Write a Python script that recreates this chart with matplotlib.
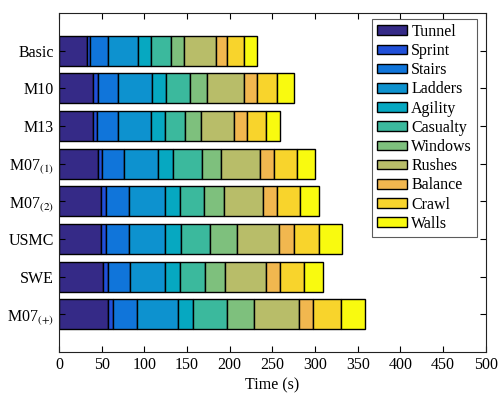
import matplotlib
matplotlib.use("Agg")
import matplotlib.pyplot as plt
import numpy as np

plt.rcParams['font.family'] = ['Liberation Serif', 'DejaVu Serif']
plt.rcParams['mathtext.fontset'] = 'stix'

configs = ['Basic', 'M10', 'M13', r'M07$_{\mathrm{(1)}}$', r'M07$_{\mathrm{(2)}}$',
           'USMC', 'SWE', r'M07$_{\mathrm{(+)}}$']
stations = ['Tunnel', 'Sprint', 'Stairs', 'Ladders', 'Agility', 'Casualty',
            'Windows', 'Rushes', 'Balance', 'Crawl', 'Walls']
colors = ['#352a87', '#2150d8', '#1075da', '#0d92cf', '#06a8c1', '#3bb99d',
          '#7ec07d', '#b8bd69', '#f1b74f', '#f8d42c', '#f9fa0f']

# seconds per station, one row per configuration
times = {
    'Basic':  [32.4, 4.3, 21.1, 34.4, 15.3, 23.8, 14.8, 37.5, 13.3, 19.5, 15.6],
    'M10':    [40.2, 5.1, 24.2, 39.9, 16.0, 28.5, 19.9, 43.0, 14.8, 23.5, 19.9],
    'M13':    [40.2, 4.7, 24.6, 37.9, 16.8, 23.5, 18.3, 39.5, 15.2, 21.5, 17.2],
    'M07_1':  [45.3, 5.5, 25.8, 39.8, 17.6, 33.2, 22.4, 46.4, 16.0, 27.1, 20.5],
    'M07_2':  [49.2, 5.9, 26.5, 42.6, 18.0, 28.1, 22.9, 45.3, 16.4, 27.1, 22.7],
    'USMC':   [49.2, 5.9, 26.9, 42.2, 18.4, 34.7, 30.9, 50.0, 17.2, 29.7, 27.0],
    'SWE':    [51.9, 5.9, 25.8, 40.6, 18.0, 29.3, 22.6, 48.9, 15.6, 28.2, 22.6],
    'M07_p':  [57.8, 5.9, 28.1, 47.3, 18.3, 39.9, 30.9, 52.7, 17.2, 32.5, 28.4],
}
data = np.array(list(times.values()))

fig = plt.figure(figsize=(5.01, 3.94), dpi=100)
ax = fig.add_axes([59/501, 1-352/394, 426.7/501, 339/394])

y = np.arange(len(configs))
left = np.zeros(len(configs))
for i, st in enumerate(stations):
    ax.barh(y, data[:, i], left=left, height=0.8, color=colors[i],
            edgecolor='black', linewidth=1.0, label=st)
    left += data[:, i]

ax.set_xlim(0, 500)
ax.set_ylim(8, -1)
ax.set_yticks(y)
ax.set_yticklabels(configs, fontsize=11.5)
ax.set_xticks(np.arange(0, 501, 50))
ax.tick_params(axis='x', labelsize=11.5, direction='in', top=True, length=4)
ax.tick_params(axis='y', direction='in', right=True, length=4)
ax.set_xlabel('Time (s)', fontsize=11.5, labelpad=3)
for s in ax.spines.values():
    s.set_color('#222222')

leg = ax.legend(loc='upper right', bbox_to_anchor=(0.979, 0.982), fontsize=11.5,
                frameon=True, fancybox=False, edgecolor='#333333',
                handlelength=1.9, handleheight=0.55, handletextpad=0.25,
                labelspacing=0.2, borderpad=0.3, borderaxespad=0)
leg.get_frame().set_linewidth(0.8)

fig.savefig('out.png', dpi=100)
